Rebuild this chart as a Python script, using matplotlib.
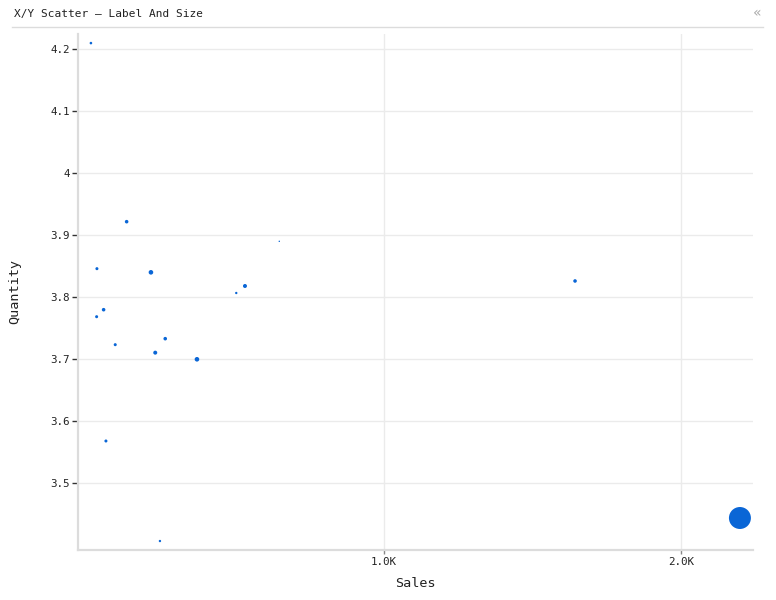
"""X/Y scatter of sales against quantity, point size by a third measure."""

import matplotlib

matplotlib.use("Agg")

import matplotlib.pyplot as plt
from matplotlib.ticker import FixedLocator, FuncFormatter

sales = [14.5, 134.7, 34.7, 216.5, 648.5, 533.0, 503.7, 57.2, 33.7,
         96.3, 264.6, 231.0, 371.4, 65.0, 246.8, 1644.0, 2199.0]
quantity = [4.210, 3.9215, 3.8456, 3.8397, 3.8898, 3.8176, 3.8063, 3.7793, 3.768,
            3.7228, 3.7325, 3.7099, 3.6992, 3.5672, 3.4056, 3.8257, 3.4428]
size = [1.7, 3.2, 2.3, 5.3, 0.5, 4.0, 1.4, 3.2, 2.3,
        2.3, 3.2, 4.0, 5.3, 2.3, 1.4, 3.2, 121.0]

x_ticks = [1000, 2000]
y_ticks = [3.5, 3.6, 3.7, 3.8, 3.9, 4.0, 4.1, 4.2]

MONO = "DejaVu Sans Mono"
DOT = "#0a66d6"
GRID = "#ebebeb"
SPINE = "#dcdcdc"

fig = plt.figure(figsize=(7.76, 6.0), dpi=100)
ax = fig.add_axes([78 / 776, 50 / 600, 675 / 776, 516 / 600])

ax.scatter(sales, quantity, s=[v * 2.07 for v in size], color=DOT,
           edgecolors="none", zorder=3)

ax.set_xlim(-29, 2243)
ax.set_ylim(3.3911, 4.2247)
ax.xaxis.set_major_locator(FixedLocator(x_ticks))
ax.yaxis.set_major_locator(FixedLocator(y_ticks))
ax.xaxis.set_major_formatter(FuncFormatter(lambda v, _: f"{v / 1000:.1f}K"))
ax.yaxis.set_major_formatter(FuncFormatter(lambda v, _: f"{v:g}"))

ax.grid(True, color=GRID, linewidth=1, zorder=0)
for side in ("top", "right"):
    ax.spines[side].set_visible(False)
for side in ("left", "bottom"):
    ax.spines[side].set_color(SPINE)
    ax.spines[side].set_linewidth(1.6)

ax.tick_params(axis="y", length=4, width=1, color="#333333", pad=2,
               labelsize=7.8, labelcolor="#222222")
ax.tick_params(axis="x", length=3, width=1, color="#888888", pad=2,
               labelsize=7.8, labelcolor="#222222")
for lbl in ax.get_xticklabels() + ax.get_yticklabels():
    lbl.set_family(MONO)

ax.set_xlabel("Sales", family=MONO, fontsize=9.7, color="#222222")
ax.set_ylabel("Quantity", family=MONO, fontsize=9.7, color="#222222")
ax.yaxis.set_label_coords((21 - 78) / 675, 0.5)
ax.xaxis.set_label_coords((415 - 78) / 675, -27 / 516)

# title bar
fig.text(14 / 776, 1 - 14 / 600, "X/Y Scatter — Label And Size", family=MONO,
         fontsize=8, color="#222222", va="center", ha="left")
fig.text(757 / 776, 1 - 13 / 600, "«", fontsize=10, color="#aaaaaa",
         va="center", ha="center")
fig.add_artist(plt.Line2D([12 / 776, 763 / 776], [1 - 27 / 600, 1 - 27 / 600],
                          color=SPINE, linewidth=1, transform=fig.transFigure))

fig.savefig("out.png", dpi=100)
